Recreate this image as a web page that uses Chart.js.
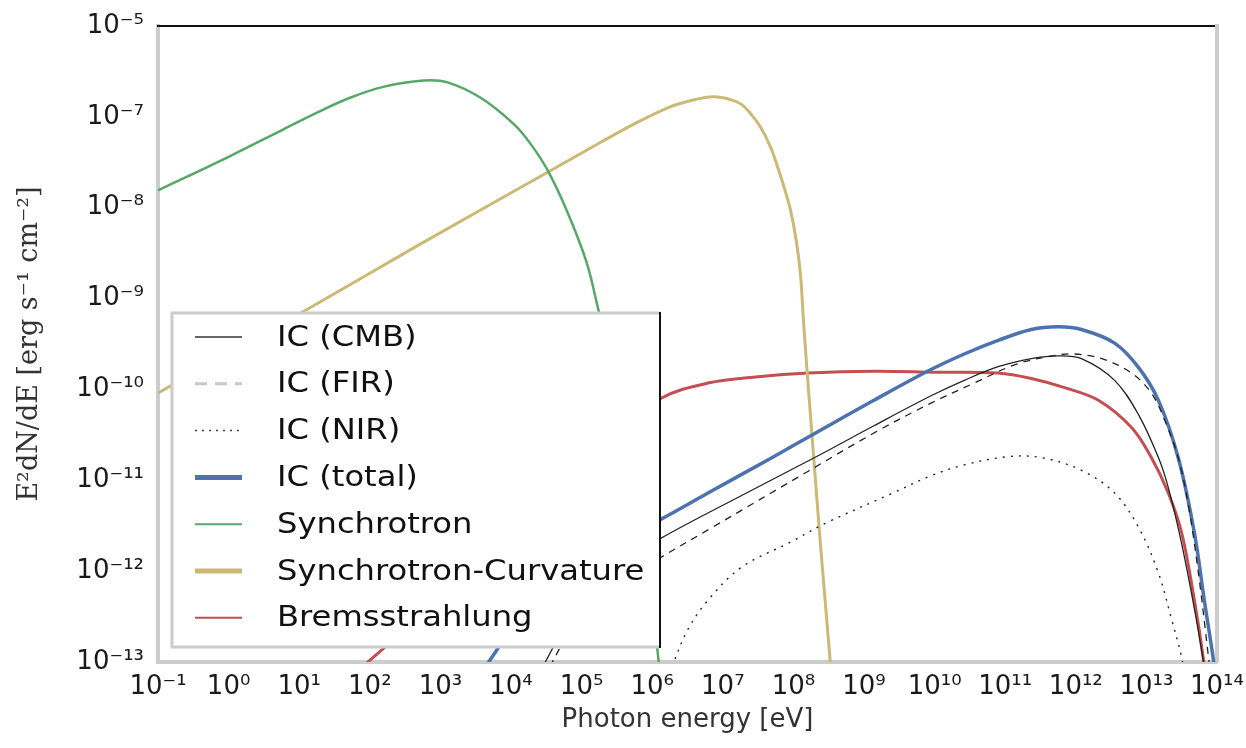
<!DOCTYPE html>
<html>
<head>
<meta charset="utf-8">
<script src="https://cdn.jsdelivr.net/npm/chart.js@4.4.1/dist/chart.umd.min.js"></script>
<style>html,body{margin:0;padding:0;background:#fff}</style>
</head>
<body>
<canvas id="sed" width="1246" height="748"></canvas>
<script>
// all values are log10: photon energy [eV] and E^2 dN/dE [erg s^-1 cm^-2]
const cmbE = [4.45, 5.0, 5.5, 6.12, 7.26, 8.35, 9.14, 9.95, 10.42, 10.9, 11.37, 11.75, 12.08, 12.55, 12.89, 13.17, 13.31, 13.5, 13.7, 13.85];
const cmbF = [-13.05, -12.3, -11.95, -11.64, -11.17, -10.73, -10.4, -10.07, -9.9, -9.75, -9.66, -9.63, -9.66, -9.9, -10.28, -10.75, -11.08, -11.7, -12.5, -13.2];

const firE = [4.55, 5.0, 5.5, 6.12, 6.87, 8.21, 9.14, 9.95, 10.56, 11.13, 11.6, 11.98, 12.4, 12.79, 13.07, 13.26, 13.45, 13.6, 13.75, 13.88, 13.92];
const firF = [-13.05, -12.45, -12.15, -11.85, -11.51, -10.9, -10.48, -10.15, -9.93, -9.73, -9.64, -9.61, -9.67, -9.82, -10.04, -10.34, -10.75, -11.3, -12.1, -12.95, -13.2];

const nirE = [6.28, 6.5, 6.79, 7.26, 7.96, 8.49, 9.38, 9.95, 10.42, 11.04, 11.51, 12.08, 12.55, 12.89, 13.17, 13.35, 13.5, 13.55];
const nirF = [-13.05, -12.65, -12.32, -11.96, -11.68, -11.46, -11.15, -10.95, -10.83, -10.74, -10.75, -10.89, -11.14, -11.52, -12.02, -12.51, -12.95, -13.2];

const totE = [3.64, 4.0, 4.5, 5.0, 5.5, 6.12, 6.79, 7.72, 8.29, 9.14, 9.9, 10.42, 10.9, 11.37, 11.75, 12.08, 12.55, 12.89, 13.17, 13.45, 13.68, 13.82, 13.95, 13.98];
const totF = [-13.05, -12.65, -12.2, -11.9, -11.68, -11.43, -11.14, -10.74, -10.49, -10.12, -9.8, -9.61, -9.46, -9.34, -9.31, -9.34, -9.49, -9.76, -10.12, -10.75, -11.58, -12.32, -12.98, -13.2];

const synE = [-1.0, 0.0, 0.77, 1.26, 1.72, 2.19, 2.76, 3.1, 3.57, 4.04, 4.28, 4.52, 4.8, 5.07, 5.24, 5.5, 5.75, 5.95, 6.12];
const synF = [-7.81, -7.44, -7.14, -6.95, -6.79, -6.67, -6.6, -6.62, -6.79, -7.08, -7.3, -7.59, -8.05, -8.6, -9.13, -9.95, -10.9, -12.0, -13.2];

const curE = [-1.0, 1.11, 2.67, 4.52, 5.27, 5.74, 6.22, 6.55, 6.87, 7.11, 7.26, 7.4, 7.54, 7.68, 7.78, 7.87, 7.96, 8.04, 8.1, 8.14, 8.19, 8.28, 8.39, 8.52, 8.55];
const curF = [-10.04, -9.12, -8.42, -7.61, -7.28, -7.08, -6.9, -6.82, -6.78, -6.81, -6.86, -6.97, -7.12, -7.34, -7.56, -7.78, -8.03, -8.36, -8.73, -9.21, -9.76, -10.67, -11.77, -12.98, -13.3];

const bremE = [1.9, 3.0, 4.0, 5.0, 5.6, 6.12, 6.79, 7.5, 8.21, 9.14, 10.0, 10.9, 11.37, 11.84, 12.32, 12.79, 13.07, 13.31, 13.5, 13.68, 13.81, 13.85];
const bremF = [-13.05, -12.3, -11.6, -10.85, -10.45, -10.1, -9.93, -9.86, -9.82, -9.8, -9.81, -9.82, -9.88, -9.98, -10.12, -10.42, -10.75, -11.14, -11.58, -12.32, -12.98, -13.3];

const xTickExp = [-1, 0, 1, 2, 3, 4, 5, 6, 7, 8, 9, 10, 11, 12, 13, 14];
const xTickLabels = ["10⁻¹","10⁰","10¹","10²","10³","10⁴","10⁵","10⁶","10⁷","10⁸","10⁹","10¹⁰","10¹¹","10¹²","10¹³","10¹⁴"];
const yTickExp = [-13, -12, -11, -10, -9, -8, -7, -6];
const yTickLabels = ["10⁻¹³","10⁻¹²","10⁻¹¹","10⁻¹⁰","10⁻⁹","10⁻⁸","10⁻⁷","10⁻⁵"];

const pts = (le, lf) => le.map((e, i) => ({x: Math.pow(10, e), y: Math.pow(10, lf[i])}));

function series(label, le, lf, color, width, dash, legendStyle) {
  return {label, data: pts(le, lf), borderColor: color, borderWidth: width, borderDash: dash,
          showLine: true, pointRadius: 0, fill: false, clip: 0, tension: 0.35, legendStyle};
}

const boxLegend = {
  id: "boxLegend",
  afterDatasetsDraw(chart) {
    const {ctx, chartArea: a} = chart;
    const left = a.left + 14, top = a.top + 287, right = a.left + 502, bottom = a.bottom - 15;
    ctx.save();
    ctx.fillStyle = "#fff";
    ctx.fillRect(left, top, right - left, bottom - top);
    ctx.strokeStyle = "#cccccc"; ctx.lineWidth = 3;
    ctx.beginPath(); ctx.moveTo(right, top); ctx.lineTo(left, top); ctx.lineTo(left, bottom); ctx.lineTo(right, bottom); ctx.stroke();
    ctx.strokeStyle = "#111"; ctx.lineWidth = 2;
    ctx.beginPath(); ctx.moveTo(right, top - 1); ctx.lineTo(right, bottom + 1); ctx.stroke();
    ctx.font = "29px 'DejaVu Sans'"; ctx.textBaseline = "middle"; ctx.fillStyle = "#111";
    chart.data.datasets.forEach((ds, i) => {
      const y = top + 24 + i * 46.8, k = ds.legendStyle;
      ctx.strokeStyle = k.color; ctx.lineWidth = k.width; ctx.setLineDash(k.dash || []);
      ctx.beginPath(); ctx.moveTo(left + 23, y); ctx.lineTo(left + 70, y); ctx.stroke();
      ctx.setLineDash([]);
      ctx.save();
      ctx.translate(left + 105, y + 1);
      ctx.scale(1.11, 1);
      ctx.fillText(ds.label, 0, 0);
      ctx.restore();
    });
    ctx.restore();
  }
};

Chart.defaults.font.family = "'DejaVu Sans'";

new Chart(document.getElementById("sed"), {
  type: "scatter",
  data: {
    datasets: [
      series("IC (CMB)", cmbE, cmbF, "#222", 1.3, [], {color: "#333", width: 1.5}),
      series("IC (FIR)", firE, firF, "#222", 1.3, [7, 6], {color: "#c8c8c8", width: 3, dash: [12, 8]}),
      series("IC (NIR)", nirE, nirF, "#222", 1.4, [2, 6], {color: "#444", width: 1.5, dash: [2, 5]}),
      series("IC (total)", totE, totF, "#4c72b0", 3.5, [], {color: "#4c72b0", width: 5}),
      series("Synchrotron", synE, synF, "#55a868", 2.5, [], {color: "#55a868", width: 2}),
      series("Synchrotron-Curvature", curE, curF, "#ccb974", 3, [], {color: "#ccb974", width: 5}),
      series("Bremsstrahlung", bremE, bremF, "#c44e52", 3, [], {color: "#c44e52", width: 2}),
    ],
  },
  options: {
    responsive: false, animation: false, events: [],
    layout: {padding: 0},
    plugins: {legend: {display: false}, tooltip: {enabled: false}},
    scales: {
      x: {
        type: "logarithmic", position: "bottom", min: 0.1, max: 1e14,
        afterBuildTicks: s => { s.ticks = xTickExp.map(e => ({value: Math.pow(10, e)})); },
        afterFit: s => { s.height = 86; s.paddingLeft = 0; s.paddingRight = 0; },
        ticks: {autoSkip: false, maxRotation: 0, padding: 10, color: "#1a1a1a", font: {size: 26},
                callback: (v, i) => xTickLabels[i]},
        grid: {display: false, drawTicks: false},
        border: {color: "#cccccc", width: 4},
        title: {display: true, text: "Photon energy [eV]", color: "#333", font: {size: 26}, padding: {top: 0, bottom: 12}},
      },
      y: {
        type: "logarithmic", position: "left", min: 1e-13, max: 1e-6,
        afterBuildTicks: s => { s.ticks = yTickExp.map(e => ({value: Math.pow(10, e)})); },
        afterFit: s => { s.width = 158; s.paddingTop = 0; s.paddingBottom = 0; },
        ticks: {autoSkip: false, padding: 14, color: "#1a1a1a", font: {size: 26},
                callback: (v, i) => yTickLabels[i]},
        grid: {display: false, drawTicks: false},
        border: {color: "#cccccc", width: 4},
        title: {display: true, text: "E²dN/dE [erg s⁻¹ cm⁻²]", color: "#333",
                font: {family: "'DejaVu Serif'", size: 27}, padding: {top: 14, bottom: 0}},
      },
      xTop: {
        type: "logarithmic", position: "top", min: 0.1, max: 1e14,
        afterFit: s => { s.height = 26; s.paddingLeft = 0; s.paddingRight = 0; },
        ticks: {display: false}, grid: {display: false, drawTicks: false},
        border: {color: "#111", width: 2},
      },
      yRight: {
        type: "logarithmic", position: "right", min: 1e-13, max: 1e-6,
        afterFit: s => { s.width = 29; },
        ticks: {display: false}, grid: {display: false, drawTicks: false},
        border: {color: "#cccccc", width: 4},
      },
    },
  },
  plugins: [boxLegend],
});
</script>
</body>
</html>
